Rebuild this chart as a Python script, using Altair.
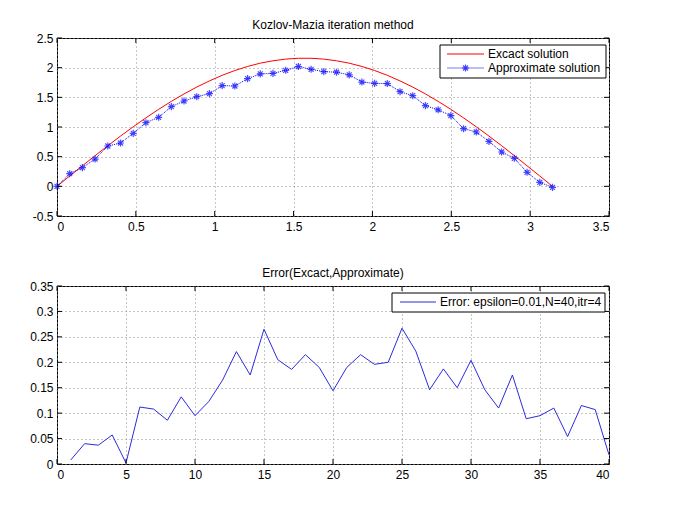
import altair as alt
import pandas as pd

# ---------------- data ----------------
x_nodes = [0.0, 0.0806, 0.1611, 0.2417, 0.3222, 0.4028, 0.4833, 0.5639, 0.6444, 0.7250,
           0.8055, 0.8861, 0.9666, 1.0472, 1.1278, 1.2083, 1.2889, 1.3694, 1.4500, 1.5305,
           1.6111, 1.6916, 1.7722, 1.8527, 1.9333, 2.0138, 2.0944, 2.1750, 2.2555, 2.3361,
           2.4166, 2.4972, 2.5777, 2.6583, 2.7388, 2.8194, 2.8999, 2.9805, 3.0610, 3.1416]

exact_solution = [0.0, 0.174, 0.346, 0.517, 0.684, 0.847, 1.004, 1.154, 1.298, 1.432,
                  1.558, 1.673, 1.777, 1.871, 1.952, 2.020, 2.076, 2.116, 2.144, 2.158,
                  2.158, 2.144, 2.116, 2.076, 2.020, 1.952, 1.871, 1.777, 1.673, 1.558,
                  1.432, 1.298, 1.154, 1.004, 0.847, 0.684, 0.517, 0.346, 0.174, 0.0]

approx_solution = [0.0, 0.213, 0.315, 0.46, 0.68, 0.73, 0.893, 1.073, 1.163, 1.343,
                   1.438, 1.511, 1.562, 1.697, 1.691, 1.815, 1.895, 1.904, 1.955, 2.02,
                   1.972, 1.933, 1.924, 1.879, 1.758, 1.735, 1.732, 1.595, 1.528, 1.36,
                   1.29, 1.192, 0.972, 0.916, 0.758, 0.579, 0.472, 0.236, 0.067, -0.017]

err_index = [1, 2, 3, 4, 5, 6, 7, 8, 9, 10, 11, 12, 13, 14, 15, 16, 17, 18, 19, 20,
             21, 22, 23, 24, 25, 26, 27, 28, 29, 30, 31, 32, 33, 34, 35, 36, 37, 38, 39, 40]
err_values = [0.008, 0.040, 0.037, 0.057, 0.002, 0.112, 0.108, 0.086, 0.132, 0.095,
              0.123, 0.165, 0.221, 0.175, 0.265, 0.205, 0.186, 0.215, 0.190, 0.144,
              0.190, 0.215, 0.196, 0.200, 0.267, 0.222, 0.146, 0.187, 0.150, 0.204,
              0.146, 0.110, 0.175, 0.089, 0.095, 0.110, 0.054, 0.115, 0.107, 0.018]

top_x_ticks = [0, 0.5, 1, 1.5, 2, 2.5, 3, 3.5]
top_y_ticks = [-0.5, 0, 0.5, 1, 1.5, 2, 2.5]
bot_x_ticks = [0, 5, 10, 15, 20, 25, 30, 35, 40]
bot_y_ticks = [0, 0.05, 0.1, 0.15, 0.2, 0.25, 0.3, 0.35]

top_title = "Kozlov-Mazia iteration method"
bot_title = "Error(Excact,Approximate)"
top_legend = ["Excact solution", "Approximate solution"]
bot_legend = ["Error: epsilon=0.01,N=40,itr=4"]

# ---------------- style ----------------
FONT = "Liberation Sans"
W, H = 552, 178
RED = "#ff0000"
BLUE = "#0000ff"
LIGHTBLUE = "#7a7aff"
ERRBLUE = "#2b2bdd"
STAR = "M-1,0L1,0M0,-1L0,1M-0.7,-0.7L0.7,0.7M-0.7,0.7L0.7,-0.7"


def mk_axis(values, orient):
    return alt.Axis(values=values, orient=orient, title=None, grid=True,
                    gridDash=[1, 3], gridColor="#8c8c8c", gridWidth=1,
                    domain=False, ticks=False, labelExpr="toString(datum.value)",
                    labelFont=FONT, labelFontSize=12, labelColor="black",
                    labelPadding=5 if orient == "bottom" else 4)


def tick_layers(xvals, yvals, xscale, yscale, xaxis, yaxis):
    dfx = pd.DataFrame({"t": xvals})
    dfy = pd.DataFrame({"t": yvals})
    xenc = alt.X("t:Q", scale=xscale, axis=xaxis)
    yenc = alt.Y("t:Q", scale=yscale, axis=yaxis)
    blk = alt.value("black")
    return [
        alt.Chart(dfx).mark_rule(strokeWidth=1).encode(
            x=xenc, y=alt.value(0), y2=alt.value(5), stroke=blk),
        alt.Chart(dfx).mark_rule(strokeWidth=1).encode(
            x=xenc, y=alt.value(H - 5), y2=alt.value(H), stroke=blk),
        alt.Chart(dfy).mark_rule(strokeWidth=1).encode(
            y=yenc, x=alt.value(0), x2=alt.value(5), stroke=blk),
        alt.Chart(dfy).mark_rule(strokeWidth=1).encode(
            y=yenc, x=alt.value(W - 5), x2=alt.value(W), stroke=blk),
    ]


def box(x1, x2, y1, y2):
    return alt.Chart(pd.DataFrame({"k": [0]})).mark_rect(strokeWidth=1).encode(
        x=alt.value(x1), x2=alt.value(x2), y=alt.value(y1), y2=alt.value(y2),
        fill=alt.value("white"), stroke=alt.value("black"))


def solid_seg(x1, x2, y, color, name):
    # thin filled bar used as a legend line sample
    return alt.Chart(pd.DataFrame({"k": [name]})).mark_rect().encode(
        x=alt.value(x1), x2=alt.value(x2), y=alt.value(y - 0.6), y2=alt.value(y + 0.6),
        fill=alt.value(color))


def label(x, y, text):
    return alt.Chart(pd.DataFrame({"label": [text]})).mark_text(
        align="left", baseline="middle", font=FONT, fontSize=12).encode(
        x=alt.value(x), y=alt.value(y), text="label:N", fill=alt.value("black"))


def title(text):
    return alt.TitleParams(text, font=FONT, fontSize=12, fontWeight="normal",
                           color="black", offset=0, anchor="middle")


# ---------------- top panel ----------------
df_top = pd.DataFrame({"x": x_nodes, "exact": exact_solution, "approx": approx_solution})
xs_t = alt.Scale(domain=[0, 3.5], nice=False, zero=False)
ys_t = alt.Scale(domain=[-0.5, 2.5], nice=False, zero=False)
xa_t = mk_axis(top_x_ticks, "bottom")
ya_t = mk_axis(top_y_ticks, "left")

exact_line = alt.Chart(df_top).mark_line(color=RED, strokeWidth=1).encode(
    x=alt.X("x:Q", scale=xs_t, axis=xa_t), y=alt.Y("exact:Q", scale=ys_t, axis=ya_t))
approx_line = alt.Chart(df_top).mark_line(color=BLUE, strokeWidth=1, strokeDash=[1, 1]).encode(
    x=alt.X("x:Q", scale=xs_t, axis=xa_t), y=alt.Y("approx:Q", scale=ys_t, axis=ya_t))
approx_pts = alt.Chart(df_top).mark_point(shape=STAR, filled=False, color=BLUE,
                                           size=50, strokeWidth=1.2).encode(
    x=alt.X("x:Q", scale=xs_t, axis=xa_t), y=alt.Y("approx:Q", scale=ys_t, axis=ya_t))

top_leg = [
    box(383, 549, 7, 40),
    solid_seg(390, 427, 16, RED, "red"),
    label(431, 15.5, top_legend[0]),
    solid_seg(390, 427, 30, LIGHTBLUE, "blue"),
    alt.Chart(pd.DataFrame({"k": ["star"]})).mark_point(shape=STAR, filled=False, color=BLUE,
                                                         size=50, strokeWidth=1.2).encode(
        x=alt.value(408.5), y=alt.value(30)),
    label(431, 30, top_legend[1]),
]

top = alt.layer(exact_line, approx_line, approx_pts,
                *tick_layers(top_x_ticks, top_y_ticks, xs_t, ys_t, xa_t, ya_t),
                *top_leg).properties(width=W, height=H, title=title(top_title))

# ---------------- bottom panel ----------------
df_bot = pd.DataFrame({"i": err_index, "err": err_values})
xs_b = alt.Scale(domain=[0, 40], nice=False, zero=False)
ys_b = alt.Scale(domain=[0, 0.35], nice=False, zero=False)
xa_b = mk_axis(bot_x_ticks, "bottom")
ya_b = mk_axis(bot_y_ticks, "left")

err_line = alt.Chart(df_bot).mark_line(color=ERRBLUE, strokeWidth=1).encode(
    x=alt.X("i:Q", scale=xs_b, axis=xa_b), y=alt.Y("err:Q", scale=ys_b, axis=ya_b))

bot_leg = [
    box(335, 548, 7, 26),
    solid_seg(343, 379, 16, ERRBLUE, "err"),
    label(383, 16, bot_legend[0]),
]

bottom = alt.layer(err_line,
                   *tick_layers(bot_x_ticks, bot_y_ticks, xs_b, ys_b, xa_b, ya_b),
                   *bot_leg).properties(width=W, height=H, title=title(bot_title))

chart = alt.vconcat(top, bottom, spacing=33).properties(
    padding={"left": 21, "top": 10, "right": 5, "bottom": 5},
    background="white",
).configure_view(stroke="black", strokeWidth=1)

chart.save("out.html", embed_options={"renderer": "svg", "actions": False})
